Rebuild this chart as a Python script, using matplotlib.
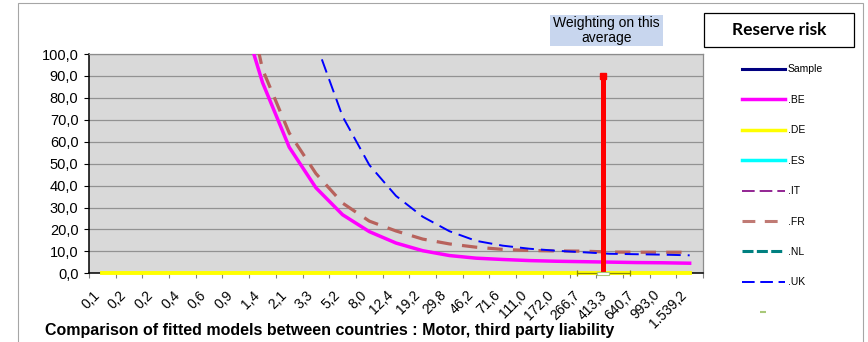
import numpy as np
import matplotlib
matplotlib.use("Agg")
import matplotlib.pyplot as plt
from matplotlib.lines import Line2D
from matplotlib.patches import Rectangle

plt.rcParams['font.family'] = ['Liberation Sans', 'DejaVu Sans']

# ---- data (NaN = point lies off the 0-100 scale / not shown) ----
categories = ['0,1', '0,2', '0,2', '0,4', '0,6', '0,9', '1,4', '2,1', '3,3', '5,2',
              '8,0', '12,4', '19,2', '29,8', '46,2', '71,6', '111,0', '172,0',
              '266,7', '413,3', '640,7', '993,0', '1.539,2']
nan = np.nan
be = [nan, nan, nan, nan, nan, 127.0, 87.0, 57.5, 39.0, 26.7, 19.0, 13.8, 10.3,
      8.1, 6.9, 6.3, 5.8, 5.5, 5.3, 5.1, 4.9, 4.8, 4.6]
de = [0.0, 0.0, 0.0, 0.0, 0.0, 0.0, 0.0, 0.0, 0.0, 0.0, 0.0, 0.0, 0.0, 0.0,
      0.0, 0.0, 0.0, 0.0, 0.0, 0.0, 0.0, 0.0, 0.0]
fr = [nan, nan, nan, nan, nan, 149.0, 93.0, 64.0, 45.5, 32.0, 23.8, 19.3, 15.6,
      13.4, 11.9, 10.9, 10.4, 10.2, 10.1, 9.7, 9.6, 9.6, 9.6]
uk = [nan, nan, nan, nan, nan, nan, nan, 150.0, 105.0, 71.5, 49.4, 35.3, 25.8,
      19.2, 14.8, 12.6, 11.2, 10.3, 9.6, 8.9, 8.7, 8.5, 8.2]

# weighting marker (position on the category axis) and its height
weight_pos = 18.77
weight_value = 90.0
weight_spread = 1.0

x = np.arange(len(categories))

fig = plt.figure(figsize=(8.68, 3.42), dpi=100)
ax = fig.add_axes([89 / 868, 1 - 273.3 / 342, (703 - 89) / 868, (273.3 - 54) / 342])
ax.set_facecolor('#D9D9D9')

# outer chart border
fig.add_artist(Rectangle((18 / 868, -0.1), (863 - 18) / 868, 0.1 + 1 - 3 / 342,
                         transform=fig.transFigure, fill=False,
                         edgecolor='#A6A6A6', linewidth=0.8))

# series
ax.plot(x, be, color='#FF00FF', lw=2.5, zorder=4)
ax.plot(x, fr, color='#B8625C', lw=2.3, dashes=(4.8, 3.2), zorder=4)
ax.plot(x, uk, color='#0000FF', lw=1.4, dashes=(7.2, 3.6), zorder=4)
ax.plot(x, de, color='#FFFF00', lw=2.8, zorder=5, clip_on=False)

# weighting line + range marker
ax.errorbar([weight_pos], [0], xerr=[weight_spread], fmt='none', ecolor='#8C8C00',
            elinewidth=0.9, capsize=2.2, capthick=0.9, zorder=6, clip_on=False)
ax.vlines(weight_pos, 0, weight_value, color='#FF0000', lw=3.6, zorder=7)
ax.plot([weight_pos], [weight_value], marker='s', ms=5, color='#FF0000', zorder=7)
box = [(-1, -0.27), (1, -0.27), (1, 0.27), (-1, 0.27), (-1, -0.27)]
ax.plot([weight_pos], [0], marker=box, ms=8, mfc='white', mec='#A8C878', mew=0.8,
        zorder=8, clip_on=False)

# axes
ax.set_xlim(-0.5, len(categories) - 0.5)
ax.set_ylim(0, 100)
ax.set_yticks(np.arange(0, 101, 10))
ax.set_yticklabels([f"{v:.1f}".replace('.', ',') for v in np.arange(0, 101, 10)],
                   fontsize=10.5)
ax.set_xticks(x)
ax.set_xticklabels(categories, rotation=45, ha='right', fontsize=10)
ax.set_xticks(np.arange(-0.5, len(categories)), minor=True)
ax.tick_params(axis='x', which='major', length=0, pad=10.5)
ax.tick_params(axis='x', which='minor', length=3.6, color='#808080', width=0.8)
ax.tick_params(axis='y', length=3.6, width=0.8, pad=4)
ax.yaxis.grid(True, color='#929292', lw=0.9)
ax.set_axisbelow(True)
for side in ('top', 'right'):
    ax.spines[side].set_color('#8C8C8C')
    ax.spines[side].set_linewidth(0.9)
for side in ('left', 'bottom'):
    ax.spines[side].set_color('black')
    ax.spines[side].set_linewidth(1.1)

# legend (several series have no points in range)
handles = [
    Line2D([], [], color='#000080', lw=2.2),
    Line2D([], [], color='#FF00FF', lw=2.5),
    Line2D([], [], color='#FFFF00', lw=2.5),
    Line2D([], [], color='#00FFFF', lw=2.5),
    Line2D([], [], color='#800080', lw=1.2, dashes=(7.6, 3.0)),
    Line2D([], [], color='#C07A74', lw=2.2, dashes=(4.2, 3.1)),
    Line2D([], [], color='#008080', lw=2.2, dashes=(3.6, 1.1)),
    Line2D([], [], color='#0000FF', lw=1.4, dashes=(6.5, 2.9)),
    Line2D([], [], color='#A8C878', marker='_', ms=4, mew=1.5, ls='none'),
]
labels = ['Sample', '.BE', '.DE', '.ES', '.IT', '.FR', '.NL', '.UK', '']
fig.legend(handles, labels, loc='upper left', bbox_to_anchor=(742 / 868, 1 - 64.5 / 342),
           frameon=False, fontsize=7.5, handlelength=4.1, handletextpad=0.3,
           labelspacing=1.96, borderpad=0, borderaxespad=0)

# header boxes
fig.add_artist(Rectangle((704 / 868, 1 - 46.7 / 342), 150 / 868, 34 / 342,
                         transform=fig.transFigure, facecolor='white',
                         edgecolor='black', linewidth=0.9))
fig.text(779 / 868, 1 - 30 / 342, 'Reserve risk', ha='center', va='center',
         fontsize=12.5, fontweight='bold', family=['Lato', 'DejaVu Sans'])

fig.add_artist(Rectangle((550 / 868, 1 - 46 / 342), 113 / 868, 31 / 342,
                         transform=fig.transFigure, facecolor='#C8D6EE',
                         edgecolor='none'))
fig.text(606.5 / 868, 1 - 30.5 / 342, 'Weighting on this\naverage', ha='center',
         va='center', multialignment='center', fontsize=10, linespacing=1.1)

fig.text(45 / 868, 1 - 335.5 / 342,
         'Comparison of fitted models between countries : Motor, third party liability',
         ha='left', va='baseline', fontsize=11.5, fontweight='bold')

fig.savefig('out.png', dpi=100)
